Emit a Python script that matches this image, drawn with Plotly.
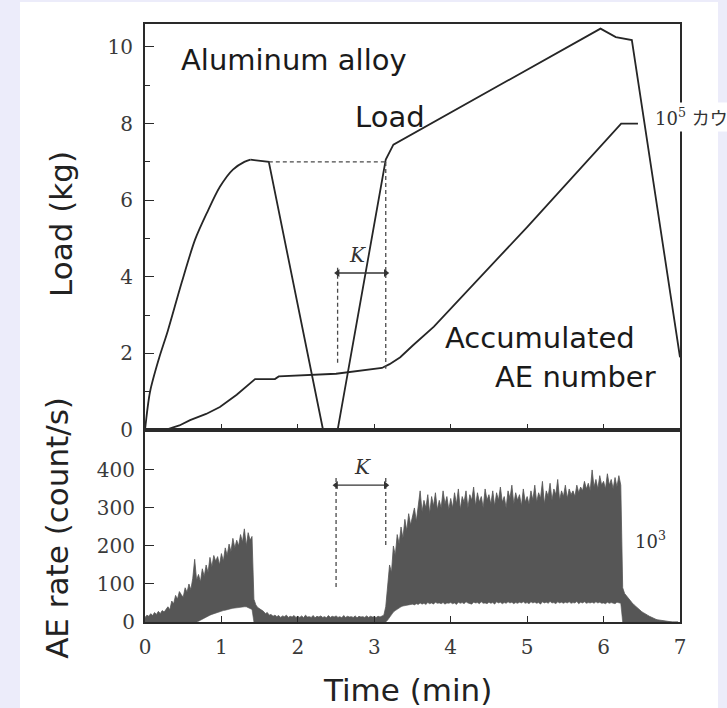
import numpy as np
import plotly.graph_objects as go

# ---------------- data ----------------
# load: initial curved rise, then the piecewise-straight remainder
load_rise_t = [0, 0.066, 0.18, 0.30, 0.48, 0.655, 0.81, 0.98, 1.15, 1.30, 1.38]
load_rise_v = [0, 1.0, 1.85, 2.6, 3.85, 4.97, 5.67, 6.35, 6.8, 7.0, 7.06]
load_t = [1.38, 1.62, 2.33, 2.52, 3.15, 3.25, 5.96, 6.16, 6.37, 7.0]
load_v = [7.06, 7.0, 0, 0, 7.06, 7.45, 10.48, 10.26, 10.18, 1.9]

acc_t = [0, 0.26, 0.45, 0.59, 0.80, 0.98, 1.20, 1.44, 1.70, 1.75, 2.5, 3.10, 3.20, 3.34, 3.50, 3.78, 5.00, 6.23, 6.45]
acc_v = [0, 0, 0.12, 0.26, 0.42, 0.60, 0.92, 1.33, 1.33, 1.40, 1.47, 1.62, 1.72, 1.90, 2.20, 2.70, 5.30, 8.0, 8.0]

# AE rate sampled every 0.025 min from 0 to 6.975 (20 samples per row = 0.5 min)
ae_upper = [
    12, 18, 15, 22, 17, 25, 20, 28, 22, 30, 26, 35, 40, 32, 55, 48, 70, 60, 80, 72,
    65, 90, 78, 100, 85, 115, 165, 110, 125, 105, 140, 120, 150, 130, 170, 145, 175, 160, 172, 150,
    180, 160, 195, 175, 205, 185, 220, 195, 215, 200, 230, 210, 245, 200, 235, 215, 225, 60, 45, 38,
    35, 30, 28, 22, 25, 18, 20, 15, 18, 14, 17, 12, 16, 14, 18, 12, 15, 13, 17, 12,
    15, 12, 16, 11, 18, 13, 14, 12, 17, 11, 15, 13, 16, 12, 14, 11, 17, 12, 15, 13,
    16, 12, 14, 11, 17, 12, 15, 13, 14, 12, 16, 11, 15, 13, 14, 12, 16, 12, 15, 13,
    14, 12, 15, 13, 16, 18, 40, 90, 150, 130, 200, 175, 230, 205, 250, 220, 270, 240, 285, 255,
    280, 300, 265, 310, 345, 290, 320, 300, 335, 285, 330, 305, 340, 295, 320, 300, 345, 310, 330, 295,
    325, 300, 340, 310, 350, 295, 330, 315, 345, 300, 335, 320, 355, 305, 340, 315, 330, 300, 350, 320,
    335, 310, 345, 305, 340, 320, 355, 315, 330, 300, 345, 325, 360, 310, 340, 320, 335, 305, 350, 315,
    330, 310, 345, 320, 360, 315, 340, 325, 370, 310, 345, 330, 365, 320, 350, 335, 375, 320, 345, 330,
    360, 325, 350, 335, 345, 330, 360, 340, 355, 345, 370, 350, 365, 345, 400, 355, 375, 350, 385, 360,
    370, 350, 390, 360, 375, 350, 380, 355, 385, 360, 90, 75, 68, 62, 56, 50, 45, 40, 35, 30,
    27, 24, 20, 18, 15, 12, 10, 8, 6, 5, 4, 3, 2, 1, 1, 0, 0, 0, 0, 0,
]
ae_lower = [
    0, 0, 0, 0, 0, 0, 0, 0, 0, 0, 0, 0, 0, 0, 0, 0, 0, 0, 0, 0,
    0, 0, 0, 0, 0, 0, 0, 0, 2, 5, 8, 10, 13, 15, 18, 20, 22, 24, 25, 27,
    28, 30, 31, 33, 34, 35, 36, 37, 38, 38, 39, 39, 40, 40, 38, 36, 33, 0, 0, 0,
    0, 0, 0, 0, 0, 0, 0, 0, 0, 0, 0, 0, 0, 0, 0, 0, 0, 0, 0, 0,
    0, 0, 0, 0, 0, 0, 0, 0, 0, 0, 0, 0, 0, 0, 0, 0, 0, 0, 0, 0,
    0, 0, 0, 0, 0, 0, 0, 0, 0, 0, 0, 0, 0, 0, 0, 0, 0, 0, 0, 0,
    0, 0, 0, 0, 0, 0, 0, 5, 12, 20, 26, 30, 34, 37, 40, 42, 43, 44, 45, 46,
    47, 45, 48, 46, 50, 47, 49, 46, 51, 48, 50, 47, 52, 49, 50, 48, 51, 47, 50, 49,
    51, 48, 50, 46, 52, 49, 51, 48, 53, 50, 49, 47, 52, 50, 51, 48, 53, 49, 50, 48,
    52, 49, 51, 47, 53, 50, 52, 48, 51, 49, 53, 50, 52, 48, 51, 49, 52, 50, 53, 49,
    51, 48, 53, 50, 52, 49, 51, 47, 53, 50, 52, 49, 54, 50, 51, 48, 53, 50, 52, 49,
    52, 50, 53, 49, 51, 50, 54, 48, 52, 50, 53, 49, 51, 50, 52, 49, 53, 50, 52, 49,
    50, 48, 52, 49, 51, 50, 48, 52, 50, 49, 0, 0, 0, 0, 0, 0, 0, 0, 0, 0,
    0, 0, 0, 0, 0, 0, 0, 0, 0, 0, 0, 0, 0, 0, 0, 0, 0, 0, 0, 0,
]
ae_t = np.round(np.arange(len(ae_upper)) * 0.025, 3)

# guide (dashed) lines and K markers
dash_top_h = ([1.62, 3.15], [7.0, 7.0])
dash_top_r = ([3.15, 3.15], [7.0, 1.6])
dash_top_l = ([2.52, 2.52], [4.24, 1.75])
k_top = ([2.52, 3.15], [4.1, 4.1])
dash_bot_l = ([2.5, 2.5], [379, 89])
dash_bot_r = ([3.15, 3.15], [379, 195])
k_bot = ([2.5, 3.15], [360, 360])

x_ticks = [0, 1, 2, 3, 4, 5, 6, 7]
load_ticks = [0, 2, 4, 6, 8, 10]
rate_ticks = [0, 100, 200, 300, 400]

LINE = "#262626"
GRAY = "#565656"
DASH = "#4a4a4a"

fig = go.Figure()

# top panel
fig.add_trace(go.Scatter(x=load_rise_t, y=load_rise_v, mode="lines",
                         line=dict(color=LINE, width=1.8, shape="spline", smoothing=0.8),
                         xaxis="x", yaxis="y", showlegend=False))
fig.add_trace(go.Scatter(x=load_t, y=load_v, mode="lines", line=dict(color=LINE, width=1.8),
                         xaxis="x", yaxis="y", showlegend=False))
fig.add_trace(go.Scatter(x=acc_t, y=acc_v, mode="lines", line=dict(color=LINE, width=1.8),
                         xaxis="x", yaxis="y", showlegend=False))
for xs, ys in (dash_top_h, dash_top_r, dash_top_l):
    fig.add_trace(go.Scatter(x=xs, y=ys, mode="lines", line=dict(color=DASH, width=1.3, dash="4px,3px"),
                             xaxis="x", yaxis="y", showlegend=False))

# bottom panel
fig.add_trace(go.Scatter(x=ae_t, y=ae_lower, mode="lines", line=dict(color=GRAY, width=0.6),
                         xaxis="x2", yaxis="y2", showlegend=False))
fig.add_trace(go.Scatter(x=ae_t, y=ae_upper, mode="lines", line=dict(color=GRAY, width=0.8),
                         fill="tonexty", fillcolor=GRAY, xaxis="x2", yaxis="y2", showlegend=False))
for xs, ys in (dash_bot_l, dash_bot_r):
    fig.add_trace(go.Scatter(x=xs, y=ys, mode="lines", line=dict(color=DASH, width=1.3, dash="4px,3px"),
                             xaxis="x2", yaxis="y2", showlegend=False))

# K span arrows (line with arrowhead markers at both ends)
for (xs, ys), xa, ya in ((k_top, "x", "y"), (k_bot, "x2", "y2")):
    fig.add_trace(go.Scatter(x=xs, y=ys, mode="lines+markers", line=dict(color="#333", width=1.3),
                             marker=dict(symbol=["triangle-left", "triangle-right"], size=7, color="#333"),
                             xaxis=xa, yaxis=ya, showlegend=False))

TICKFONT = dict(family="DejaVu Serif", size=20, color="#3a3a3a")
SANS = "DejaVu Sans"

axis_common = dict(showline=True, linecolor="#2a2a2a", linewidth=2, mirror=True,
                   ticks="inside", tickcolor="#2a2a2a", showgrid=False, zeroline=False)

fig.update_layout(
    width=727, height=708, autosize=False,
    margin=dict(l=145, r=47, t=24, b=86),
    paper_bgcolor="#ececfa", plot_bgcolor="white",
    xaxis=dict(domain=[0, 1], anchor="y", range=[0, 7], tickvals=x_ticks[1:-1], ticklen=6,
               showticklabels=False, matches="x2", **axis_common),
    yaxis=dict(domain=[0.321, 1], anchor="x", range=[0, 10.6], tickvals=load_ticks, ticklen=9,
               tickfont=TICKFONT, ticklabelstandoff=6,
               minor=dict(tickvals=[1, 3, 5, 7, 9], ticklen=5, ticks="inside", tickcolor="#2a2a2a"),
               **axis_common),
    xaxis2=dict(domain=[0, 1], anchor="y2", range=[0, 7], tickvals=x_ticks, ticklen=6,
                tickfont=TICKFONT, ticklabelstandoff=6, **axis_common),
    yaxis2=dict(domain=[0, 0.321], anchor="x2", range=[0, 505], tickvals=rate_ticks, ticklen=9,
                tickfont=TICKFONT, ticklabelstandoff=4, **axis_common),
    shapes=[
        dict(type="rect", xref="paper", yref="paper", x0=-0.2336, x1=1.071, y0=-0.1438, y1=1.0368,
             fillcolor="white", line=dict(width=0), layer="below"),
    ],
)

ann = []
C = dict(xanchor="center", yanchor="middle", showarrow=False)
# axis titles
ann.append(dict(text="Load (kg)", xref="paper", yref="paper", x=-0.157, y=0.6656, textangle=-90,
                font=dict(family=SANS, size=31, color="#222"), **C))
ann.append(dict(text="AE rate (count/s)", xref="paper", yref="paper", x=-0.165, y=0.157, textangle=-90,
                font=dict(family=SANS, size=31, color="#222"), **C))
ann.append(dict(text="Time (min)", xref="paper", yref="paper", x=0.4906, y=-0.1137,
                font=dict(family=SANS, size=31, color="#222"), **C))
# in-plot labels
ann.append(dict(text="Aluminum alloy", xref="x", yref="y", x=1.95, y=9.67,
                font=dict(family=SANS, size=29, color="#1a1a1a"), **C))
ann.append(dict(text="Load", xref="x", yref="y", x=3.21, y=8.17,
                font=dict(family=SANS, size=29, color="#1a1a1a"), **C))
ann.append(dict(text="Accumulated", xref="x", yref="y", x=5.17, y=2.40,
                font=dict(family=SANS, size=29, color="#1a1a1a"), **C))
ann.append(dict(text="AE number", xref="x", yref="y", x=5.63, y=1.39,
                font=dict(family=SANS, size=29, color="#1a1a1a"), **C))
ann.append(dict(text="10<sup>5</sup> カウ", xref="x", yref="y", x=6.63, y=8.17, xanchor="left",
                yanchor="middle", showarrow=False, bgcolor="white", borderpad=2,
                font=dict(family="DejaVu Serif, Noto Sans CJK JP", size=18, color="#333")))
ann.append(dict(text="10<sup>3</sup>", xref="x2", yref="y2", x=6.38, y=216, xanchor="left",
                yanchor="middle", showarrow=False, font=dict(family="DejaVu Serif", size=18, color="#333")))
ann.append(dict(text="<i>K</i>", xref="x", yref="y", x=2.78, y=4.57,
                font=dict(family="DejaVu Serif", size=20, color="#333"), **C))
ann.append(dict(text="<i>K</i>", xref="x2", yref="y2", x=2.84, y=408,
                font=dict(family="DejaVu Serif", size=20, color="#333"), **C))
fig.update_layout(annotations=ann)

fig.write_html("out.html")
